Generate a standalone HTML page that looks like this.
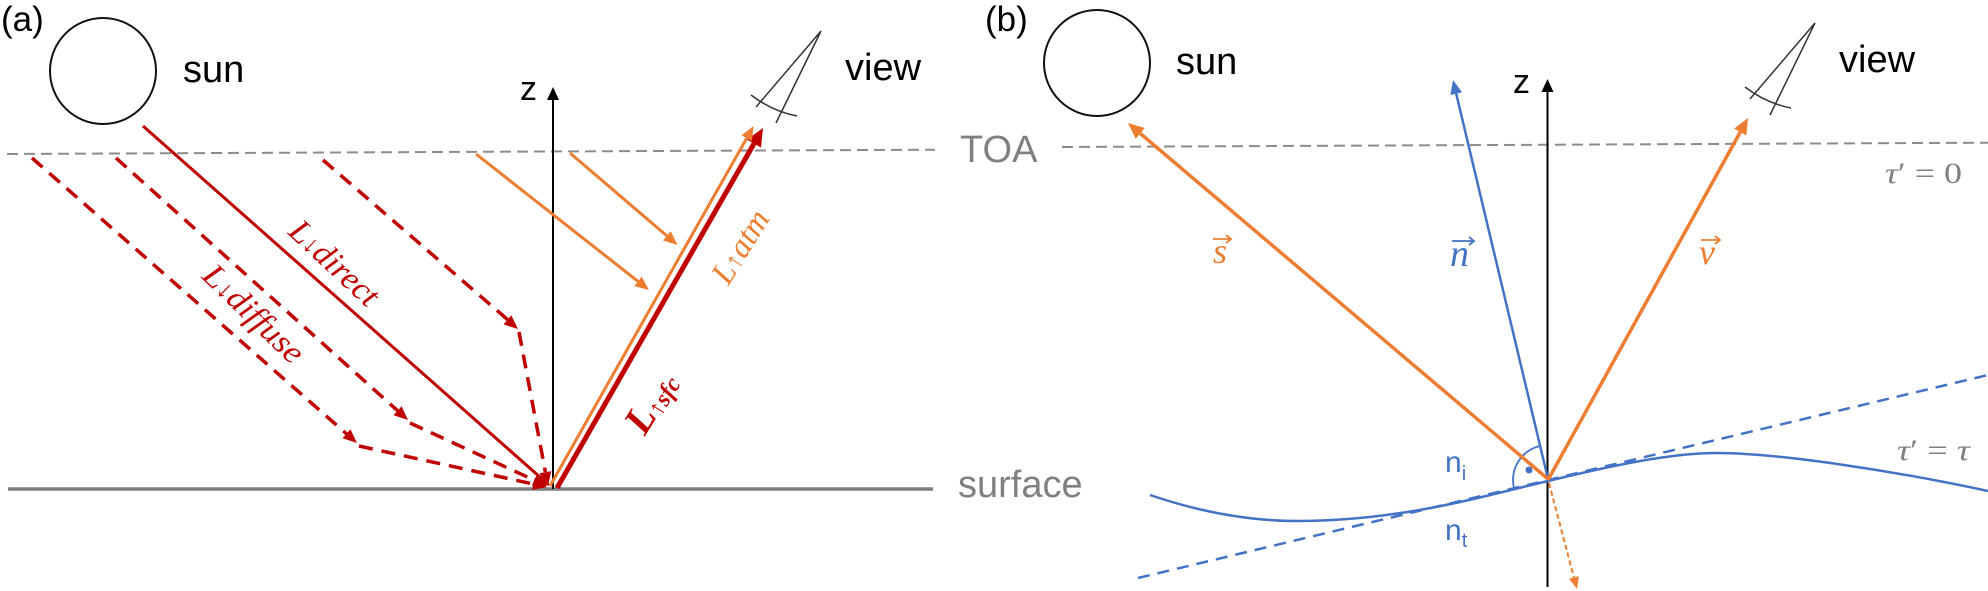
<!DOCTYPE html>
<html>
<head>
<meta charset="utf-8">
<style>
html,body{margin:0;padding:0;background:#fff;}
svg{display:block;}
.sans{font-family:"Liberation Sans",Arial,sans-serif;}
.serif{font-family:"Liberation Serif","DejaVu Serif",serif;}
</style>
</head>
<body>
<svg width="1988" height="591" viewBox="0 0 1988 591" xmlns="http://www.w3.org/2000/svg">
<rect width="1988" height="591" fill="#fff"/>

<!-- ================= PANEL (a) ================= -->
<text class="sans" x="1" y="31" font-size="35" fill="#000">(a)</text>
<circle cx="103" cy="71" r="53" fill="none" stroke="#111" stroke-width="2"/>
<text class="sans" x="183" y="82" font-size="38" fill="#000">sun</text>

<!-- view icon a -->
<g fill="none" stroke="#333" stroke-width="1.5">
  <path d="M821,31 L756,107 M821,31 L776,123"/>
  <path d="M751,95 Q772.4,111.3 797,116"/>
</g>
<text class="sans" x="845" y="80" font-size="38" fill="#000">view</text>

<!-- TOA line a -->
<line x1="7" y1="154" x2="935" y2="149.7" stroke="#8c8c8c" stroke-width="2" stroke-dasharray="11,6"/>
<text class="sans" x="960" y="162" font-size="38" fill="#808080">TOA</text>

<!-- surface -->
<line x1="8" y1="489" x2="933" y2="489" stroke="#808080" stroke-width="3.5"/>
<text class="sans" x="958" y="497" font-size="38" fill="#808080">surface</text>

<!-- z axis a -->
<line x1="553" y1="489" x2="553" y2="99" stroke="#000" stroke-width="2"/>
<polygon points="553,87 547,100 559,100" fill="#000"/>
<text class="sans" x="520" y="100" font-size="34" fill="#000">z</text>

<!-- direct -->
<line x1="143" y1="126" x2="541" y2="478" stroke="#C00000" stroke-width="3"/>
<polygon points="550,486 535.5,481.2 543.5,472.2" fill="#C00000"/>

<!-- dashed diffuse lines -->
<g stroke="#C00000" stroke-width="3.5" stroke-dasharray="14,9" fill="none">
  <line x1="323" y1="160" x2="508" y2="320"/>
  <line x1="519" y1="332" x2="545.4" y2="472"/>
  <line x1="116" y1="158" x2="397.6" y2="410.7"/>
  <line x1="410" y1="423" x2="534.3" y2="480.2"/>
  <line x1="32" y1="158" x2="346.5" y2="433.8"/>
  <line x1="359" y1="446" x2="533.3" y2="484"/>
</g>
<g fill="#C00000">
  <polygon points="518,329 503.5,324.4 511.3,315.3"/>
  <polygon points="548,486 539.5,473.3 551.3,471.1"/>
  <polygon points="408,420 393.6,415.2 401.6,406.2"/>
  <polygon points="547,486 531.8,485.6 536.8,474.7"/>
  <polygon points="357,443 342.5,438.3 350.4,429.3"/>
  <polygon points="547,487 532,489.9 534.6,478.1"/>
</g>

<!-- atmospheric orange arrows -->
<line x1="476" y1="154" x2="638" y2="281.4" stroke="#ED7D31" stroke-width="3"/>
<polygon points="649,290 634.3,286.1 641.7,276.6" fill="#ED7D31"/>
<line x1="570" y1="153" x2="666.9" y2="235.9" stroke="#ED7D31" stroke-width="3"/>
<polygon points="677.5,245 663,240.5 670.8,231.3" fill="#ED7D31"/>

<!-- upward red (sfc) -->
<line x1="557" y1="488" x2="754" y2="143.6" stroke="#C00000" stroke-width="5"/>
<polygon points="763,128 761,147.6 747.1,139.6" fill="#C00000"/>
<!-- upward orange (atm) -->
<line x1="550" y1="486" x2="746.7" y2="138.2" stroke="#ED7D31" stroke-width="3"/>
<polygon points="753.6,126 751.9,141.1 741.5,135.2" fill="#ED7D31"/>

<!-- labels a -->
<g transform="translate(334,263.5) rotate(43)">
  <text class="serif" x="0" y="10" text-anchor="middle" font-style="italic" font-size="33" fill="#C00000" textLength="110" lengthAdjust="spacingAndGlyphs">L<tspan font-size="26">↓</tspan>direct</text>
</g>
<g transform="translate(252.5,315) rotate(44)">
  <text class="serif" x="0" y="9" text-anchor="middle" font-style="italic" font-size="33" fill="#C00000" textLength="127" lengthAdjust="spacingAndGlyphs">L<tspan font-size="26">↓</tspan>diffuse</text>
</g>
<g transform="translate(741,247) rotate(-58)">
  <text class="serif" x="0" y="10" text-anchor="middle" font-style="italic" font-size="33" fill="#ED7D31" textLength="80" lengthAdjust="spacingAndGlyphs">L<tspan font-size="26">↑</tspan>atm</text>
</g>
<g transform="translate(655,405) rotate(-58)">
  <text class="serif" x="0" y="8" text-anchor="middle" font-style="italic" font-weight="bold" font-size="40" fill="#C00000">L<tspan font-size="24" dy="3">↑sfc</tspan></text>
</g>

<!-- ================= PANEL (b) ================= -->
<text class="sans" x="985" y="31" font-size="35" fill="#000">(b)</text>
<circle cx="1097" cy="63" r="53" fill="none" stroke="#111" stroke-width="2"/>
<text class="sans" x="1176" y="74" font-size="38" fill="#000">sun</text>

<g fill="none" stroke="#333" stroke-width="1.5">
  <path d="M1815,23 L1750,99 M1815,23 L1770,115"/>
  <path d="M1745,87 Q1766.4,103.3 1791,108"/>
</g>
<text class="sans" x="1839" y="72" font-size="38" fill="#000">view</text>

<!-- TOA b -->
<line x1="1062" y1="147" x2="1988" y2="142.7" stroke="#8c8c8c" stroke-width="2" stroke-dasharray="11,6"/>
<text class="serif" x="1885" y="183" font-size="30" fill="#808080" textLength="77" lengthAdjust="spacingAndGlyphs"><tspan font-style="italic">τ</tspan>′ = 0</text>

<!-- z axis b -->
<line x1="1547.5" y1="587" x2="1547.5" y2="91" stroke="#000" stroke-width="2"/>
<polygon points="1547.5,79 1541.5,92 1553.5,92" fill="#000"/>
<text class="sans" x="1513" y="93" font-size="34" fill="#000">z</text>

<!-- dashed tangent -->
<line x1="1138" y1="578" x2="1988" y2="375" stroke="#4472C4" stroke-width="2.5" stroke-dasharray="12,8"/>
<!-- surface curve -->
<path d="M1150,495 C1200,512 1250,521 1297,521 C1400,521 1480,497 1548,481 C1610,466 1670,453 1717,453 C1780,453 1900,472 1988,491" fill="none" stroke="#4472C4" stroke-width="2.5"/>
<text class="serif" x="1897" y="460" font-size="30" fill="#808080" textLength="73" lengthAdjust="spacingAndGlyphs"><tspan font-style="italic">τ</tspan>′ = <tspan font-style="italic">τ</tspan></text>

<!-- angle arc + dot -->
<path d="M1514,488 A35,35 0 0 1 1539.9,446" fill="none" stroke="#4472C4" stroke-width="1.8"/>
<circle cx="1529" cy="470" r="3.5" fill="#4472C4"/>

<!-- n arrow -->
<line x1="1548" y1="479" x2="1456.2" y2="93.6" stroke="#4472C4" stroke-width="2.5"/>
<polygon points="1453,80 1462.1,92.2 1450.4,95" fill="#4472C4"/>

<!-- s arrow -->
<line x1="1548" y1="479" x2="1140.2" y2="133.4" stroke="#ED7D31" stroke-width="3.5"/>
<polygon points="1128,123 1144.7,128 1135.7,138.7" fill="#ED7D31"/>

<!-- v arrow -->
<line x1="1548" y1="480" x2="1740.3" y2="132" stroke="#ED7D31" stroke-width="3.5"/>
<polygon points="1748,118 1746.4,135.4 1734.2,128.6" fill="#ED7D31"/>

<!-- orange dashed transmitted -->
<line x1="1549" y1="483" x2="1573.9" y2="577.4" stroke="#ED7D31" stroke-width="2" stroke-dasharray="5,3"/>
<polygon points="1577,589 1569.1,578.7 1578.8,576.1" fill="#ED7D31"/>

<!-- vector labels -->
<text class="serif" x="1213" y="263" font-style="italic" font-size="36" fill="#ED7D31">s</text>
<path d="M1213,239 H1231 M1226,235 L1231,239 L1226,243" fill="none" stroke="#ED7D31" stroke-width="1.8"/>
<text class="serif" x="1450" y="266" font-style="italic" font-size="38" fill="#4472C4">n</text>
<path d="M1452,241 H1474 M1469,237 L1474,241 L1469,245" fill="none" stroke="#4472C4" stroke-width="1.8"/>
<text class="serif" x="1699" y="264" font-style="italic" font-size="36" fill="#ED7D31">v</text>
<path d="M1701,240 H1720 M1715,236 L1720,240 L1715,244" fill="none" stroke="#ED7D31" stroke-width="1.8"/>

<!-- n_i, n_t -->
<text class="sans" x="1445" y="472" font-size="30" fill="#4472C4">n<tspan font-size="20" dy="8">i</tspan></text>
<text class="sans" x="1445" y="540" font-size="30" fill="#4472C4">n<tspan font-size="20" dy="7">t</tspan></text>
</svg>
</body>
</html>
